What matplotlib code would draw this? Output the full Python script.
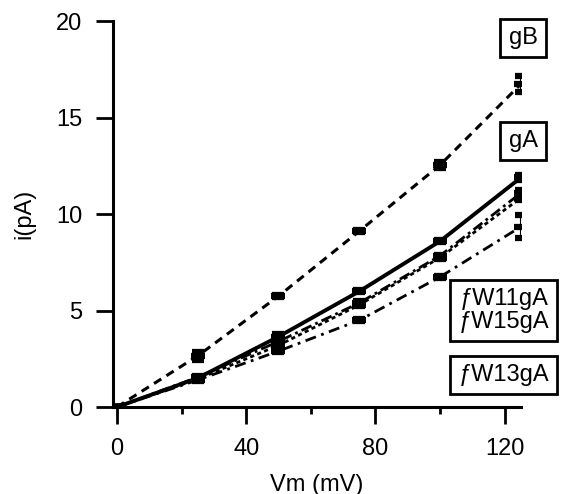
import matplotlib
matplotlib.use("Agg")
import matplotlib.pyplot as plt
from matplotlib.ticker import MultipleLocator

plt.rcParams['font.family'] = ['Liberation Sans', 'DejaVu Sans']

# tensions (mV)
vm = [0, 25, 50, 75, 100, 125]

# courants (pA)
i_gB = [0, 2.65, 5.75, 9.12, 12.55, 16.75]
e_gB = [0, 0.2, 0.05, 0.05, 0.15, 0.4]

i_gA = [0, 1.5, 3.65, 6.0, 8.6, 11.9]
e_gA = [0, 0.05, 0.15, 0.05, 0.05, 0.15]

i_W11 = [0, 1.55, 3.4, 5.4, 7.85, 11.1]
e_W11 = [0, 0.05, 0.1, 0.1, 0.05, 0.15]

i_W15 = [0, 1.45, 3.2, 5.3, 7.75, 10.85]
e_W15 = [0, 0.05, 0.05, 0.05, 0.05, 0.1]

i_W13 = [0, 1.4, 2.9, 4.5, 6.75, 9.35]
e_W13 = [0, 0.05, 0.05, 0.05, 0.05, 0.6]

fig = plt.figure(figsize=(5.62, 4.94), dpi=100)
ax = fig.add_axes([0.201, 0.176, 0.726, 0.781])

style = dict(color='black', marker='_', markersize=10, mew=4.5,
             capsize=4, elinewidth=1.5, capthick=2)

ax.errorbar(vm, i_gB, yerr=e_gB, linestyle=(0, (2.8, 2)), lw=2.2, **style)
ax.errorbar(vm, i_gA, yerr=e_gA, linestyle='-', lw=2.8, **style)
ax.errorbar(vm, i_W11, yerr=e_W11, linestyle=(0, (4, 1.5, 1, 1.5)), lw=2, **style)
ax.errorbar(vm, i_W15, yerr=e_W15, linestyle=(0, (1.5, 1.2)), lw=2, **style)
ax.errorbar(vm, i_W13, yerr=e_W13, linestyle=(0, (4, 2, 1, 2)), lw=2, **style)

ax.set_xlim(-1.2, 125)
ax.set_ylim(0, 20)
ax.spines['top'].set_visible(False)
ax.spines['right'].set_visible(False)
ax.spines['left'].set_linewidth(2.2)
ax.spines['bottom'].set_linewidth(2.2)
ax.spines['left'].set_bounds(0, 20)

ax.xaxis.set_major_locator(MultipleLocator(40))
ax.xaxis.set_minor_locator(MultipleLocator(20))
ax.yaxis.set_major_locator(MultipleLocator(5))
ax.tick_params(which='major', length=12, width=2, labelsize=17, pad=10)
ax.tick_params(which='minor', length=5, width=2)

ax.set_xlabel('Vm (mV)', fontsize=17, labelpad=10)
ax.set_ylabel('i(pA)', fontsize=17, labelpad=15)

box = dict(boxstyle='square,pad=0.35', fc='white', ec='black', lw=2)
ax.text(1.005, 0.956, 'gB', transform=ax.transAxes, fontsize=17, bbox=box,
        ha='center', va='center')
ax.text(1.005, 0.69, 'gA', transform=ax.transAxes, fontsize=17, bbox=box,
        ha='center', va='center')
ax.text(0.958, 0.251, 'ƒW11gA\nƒW15gA', transform=ax.transAxes, fontsize=17,
        bbox=box, ha='center', va='center', linespacing=1.05)
ax.text(0.958, 0.083, 'ƒW13gA', transform=ax.transAxes, fontsize=17, bbox=box,
        ha='center', va='center')

fig.savefig('out.png', dpi=100)
